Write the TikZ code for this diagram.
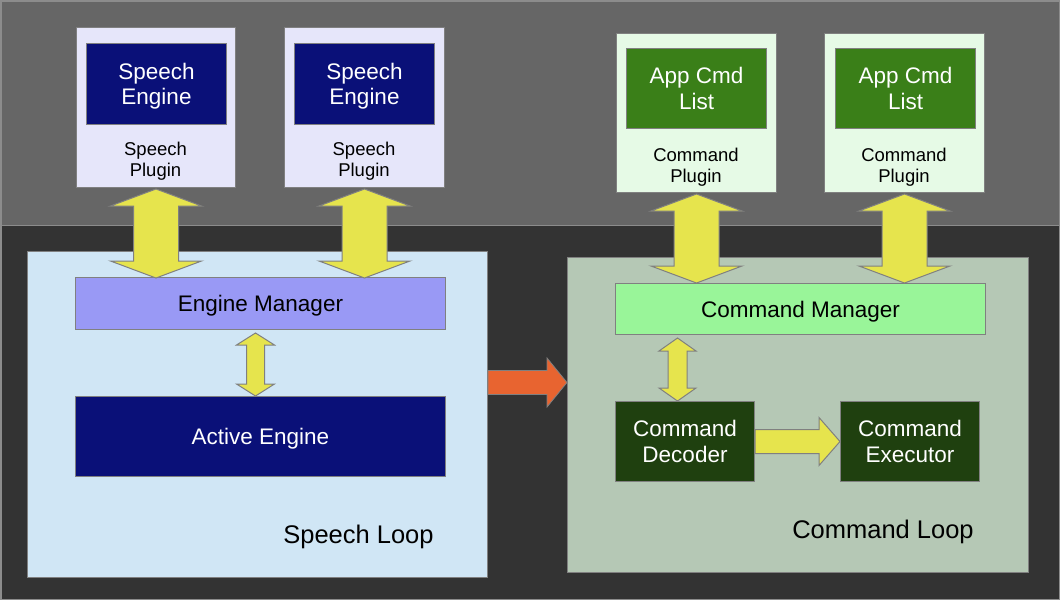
\documentclass[tikz,border=0pt]{standalone}
\usepackage{fontspec}
\setmainfont{Liberation Sans}
\usetikzlibrary{calc}
\definecolor{topbg}{HTML}{666666}
\definecolor{botbg}{HTML}{333333}
\definecolor{framegray}{HTML}{8C8C8C}
\definecolor{edgegray}{HTML}{808080}
\definecolor{lavender}{HTML}{E6E6FA}
\definecolor{navy}{HTML}{0A1078}
\definecolor{engmgr}{HTML}{9999F5}
\definecolor{speechloop}{HTML}{D0E6F5}
\definecolor{cmdplug}{HTML}{E6FAE6}
\definecolor{appgreen}{HTML}{3A7F18}
\definecolor{cmdmgr}{HTML}{99F599}
\definecolor{cmdloop}{HTML}{B5C8B5}
\definecolor{darkgreen}{HTML}{1F400F}
\definecolor{yellowarr}{HTML}{E6E44D}
\definecolor{orangearr}{HTML}{E86430}
\newcommand\vdarr[5]{% top point, bottom point, half shaft, half head, head length
  \draw[yarrow] let \p1=(#1), \p2=(#2) in
   (\x1,\y1) -- (\x1+#4,\y1-#5) -- (\x1+#3,\y1-#5) -- (\x1+#3,\y2+#5) -- (\x1+#4,\y2+#5)
   -- (\x1,\y2) -- (\x1-#4,\y2+#5) -- (\x1-#3,\y2+#5) -- (\x1-#3,\y1-#5) -- (\x1-#4,\y1-#5) -- cycle;}
\newcommand\hsarr[6]{% style, start, end, half shaft, half head, head length
  \draw[#1] let \p1=(#2), \p2=(#3) in
   (\x1,\y1+#4) -- (\x2-#6,\y1+#4) -- (\x2-#6,\y1+#5) -- (\x2,\y1) -- (\x2-#6,\y1-#5)
   -- (\x2-#6,\y1-#4) -- (\x1,\y1-#4) -- cycle;}
\begin{document}
\begin{tikzpicture}[x=1pt,y=-1pt,
  box/.style={draw=edgegray, line width=1pt, anchor=north west, inner sep=0pt, align=center},
  whitetxt/.style={text=white, font=\fontsize{22.5}{25.5}\selectfont, text depth=0pt},
  blacktxt/.style={text=black, font=\fontsize{22.5}{25.5}\selectfont, text depth=0pt},
  pluglabel/.style={text=black, font=\fontsize{18.5}{21}\selectfont, align=center, inner sep=0pt},
  looplabel/.style={text=black, font=\fontsize{25.5}{30}\selectfont, anchor=base, inner sep=0pt},
  yarrow/.style={fill=yellowarr, draw=edgegray, line width=1pt, line join=miter},
  oarrow/.style={fill=orangearr, draw=edgegray, line width=0.8pt, line join=miter}]
\useasboundingbox (0,0) rectangle (1060,600);
% background
\fill[topbg] (0,0) rectangle (1060,225);
\fill[botbg] (0,225) rectangle (1060,600);
\draw[framegray, line width=1pt] (0,225) -- (1060,225);
\draw[framegray, line width=1.5pt] (0.75,0.75) rectangle (1059.25,599.25);

% speech plugins
\node[box, fill=lavender, minimum width=159pt, minimum height=160pt] (sp1) at (76,27) {};
\node[box, fill=navy, whitetxt, minimum width=140pt, minimum height=81pt] (se1) at (86,43) {Speech\\Engine};
\node[pluglabel] (spl1) at (155.5,161) {Speech\\Plugin};
\node[box, fill=lavender, minimum width=160pt, minimum height=160pt] (sp2) at (284,27) {};
\node[box, fill=navy, whitetxt, minimum width=140pt, minimum height=81pt] (se2) at (294,43) {Speech\\Engine};
\node[pluglabel] (spl2) at (364,161) {Speech\\Plugin};

% command plugins
\node[box, fill=cmdplug, minimum width=160pt, minimum height=159pt] (cp1) at (616,33) {};
\node[box, fill=appgreen, whitetxt, minimum width=140pt, minimum height=80pt] (ac1) at (626,48) {App Cmd\\List};
\node[pluglabel] (cpl1) at (696,167) {Command\\Plugin};
\node[box, fill=cmdplug, minimum width=160pt, minimum height=159pt] (cp2) at (824,33) {};
\node[box, fill=appgreen, whitetxt, minimum width=140pt, minimum height=80pt] (ac2) at (835,48) {App Cmd\\List};
\node[pluglabel] (cpl2) at (904,167) {Command\\Plugin};

% speech loop
\node[box, fill=speechloop, minimum width=460pt, minimum height=326pt] (sl) at (27,251) {};
\node[box, fill=engmgr, blacktxt, minimum width=370pt, minimum height=52pt] (em) at (75,277) {Engine Manager};
\node[box, fill=navy, whitetxt, minimum width=370pt, minimum height=80pt] (ae) at (75,396) {Active Engine};
\node[looplabel] (sll) at (358.5,543) {Speech Loop};

% command loop
\node[box, fill=cmdloop, minimum width=461pt, minimum height=315pt] (cl) at (567,257) {};
\node[box, fill=cmdmgr, blacktxt, minimum width=370pt, minimum height=51pt] (cm) at (615,283) {Command Manager};
\node[box, fill=darkgreen, whitetxt, minimum width=139pt, minimum height=80pt] (dec) at (615,401) {Command\\Decoder};
\node[box, fill=darkgreen, whitetxt, minimum width=139pt, minimum height=80pt] (exe) at (840,401) {Command\\Executor};
\node[looplabel] (cll) at (883,538) {Command Loop};

% yellow double arrows between plugins and managers
\vdarr{$(sp1.south)+(0,1)$}{$(sp1.south |- em.north)+(0,1)$}{22.5pt}{45.5pt}{17pt}
\vdarr{$(sp2.south)+(0,1)$}{$(sp2.south |- em.north)+(0,1)$}{22.5pt}{45.5pt}{17pt}
\vdarr{$(cp1.south)+(0,1)$}{$(cp1.south |- cm.north)$}{22.5pt}{45.5pt}{17pt}
\vdarr{$(cp2.south)+(0,1)$}{$(cp2.south |- cm.north)$}{22.5pt}{45.5pt}{17pt}

% engine manager <-> active engine
\coordinate (ea) at ($(ae.north)+(-5,0)$);
\vdarr{$(ea |- em.south)+(0,3)$}{ea}{9pt}{19pt}{12pt}

% command manager <-> decoder
\coordinate (ca) at ($(dec.north)+(-7.5,0)$);
\vdarr{$(ca |- cm.south)+(0,3)$}{ca}{9.5pt}{18.5pt}{13pt}

% decoder -> executor
\hsarr{yarrow}{dec.east}{exe.west}{12pt}{24pt}{21pt}

% speech loop -> command loop
\coordinate (oa) at ($(sl.east)+(0,-32)$);
\hsarr{oarrow}{oa}{oa -| cl.west}{12pt}{24.5pt}{20pt}
\end{tikzpicture}
\end{document}
